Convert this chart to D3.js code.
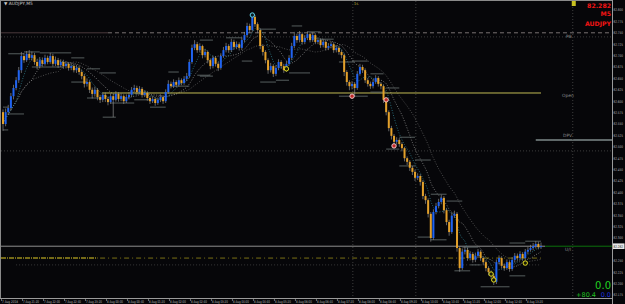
<!DOCTYPE html>
<html><head><meta charset="utf-8">
<script src="https://cdn.jsdelivr.net/npm/d3@7"></script>
<style>html,body{margin:0;padding:0;background:#060609;overflow:hidden}</style>
</head><body>
<svg id="c" width="625" height="304" style="display:block"></svg>
<script>
// ---------------- DATA ----------------
const symbolTitle = "\u25BC AUDJPY,M5";
const infoTexts = ["82.282", "M5", "AUDJPY"];
const timeLabels = ["7 Aug 2018","7 Aug 21:20","7 Aug 22:00","7 Aug 22:40","7 Aug 23:20","8 Aug 00:00","8 Aug 00:40","8 Aug 01:20","8 Aug 02:00","8 Aug 02:40","8 Aug 03:20","8 Aug 04:00","8 Aug 04:40","8 Aug 05:20","8 Aug 06:00","8 Aug 06:40","8 Aug 07:20","8 Aug 08:00","8 Aug 08:40","8 Aug 09:20","8 Aug 10:00","8 Aug 10:40","8 Aug 11:20","8 Aug 12:00","8 Aug 12:40","8 Aug 13:20"];
const priceTicks = ["82.800","82.775","82.750","82.725","82.700","82.675","82.650","82.625","82.600","82.575","82.550","82.525","82.500","82.475","82.450","82.425","82.400","82.375","82.350","82.325","82.300","82.275","82.250","82.225","82.200","82.175"];
const firstOpen = 82.576;
const closes = [
82.550,82.576,82.585,82.611,82.629,82.646,82.668,82.699,82.690,82.704,
82.695,82.701,82.686,82.677,82.690,82.682,82.695,82.686,82.699,82.682,
82.690,82.679,82.686,82.677,82.682,82.673,82.677,82.668,82.673,82.664,
82.655,82.638,82.642,82.625,82.616,82.625,82.609,82.603,82.614,82.605,
82.598,82.611,82.603,82.616,82.605,82.611,82.600,82.609,82.614,82.625,
82.629,82.620,82.627,82.614,82.618,82.607,82.600,82.605,82.596,82.603,
82.609,82.600,82.620,82.638,82.633,82.642,82.636,82.646,82.640,82.649,
82.655,82.686,82.717,82.725,82.712,82.721,82.701,82.708,82.690,82.677,
82.695,82.682,82.673,82.699,82.712,82.721,82.712,82.730,82.719,82.725,
82.717,82.734,82.745,82.765,82.756,82.785,82.769,82.756,82.721,82.708,
82.690,82.668,82.677,82.660,82.673,82.686,82.677,82.668,82.682,82.695,
82.721,82.743,82.734,82.747,82.730,82.739,82.747,82.734,82.745,82.730,
82.734,82.723,82.730,82.717,82.721,82.725,82.712,82.717,82.708,82.701,
82.664,82.642,82.633,82.638,82.629,82.660,82.675,82.668,82.646,82.638,
82.633,82.642,82.651,82.638,82.633,82.603,82.576,82.541,82.524,82.511,
82.515,82.506,82.497,82.475,82.467,82.454,82.445,82.432,82.436,82.423,
82.392,82.383,82.353,82.300,82.357,82.370,82.379,82.388,82.361,82.335,
82.313,82.349,82.353,82.278,82.234,82.270,82.274,82.256,82.265,82.252,
82.261,82.270,82.256,82.247,82.234,82.225,82.217,82.204,82.247,82.256,
82.239,82.234,82.247,82.232,82.252,82.261,82.256,82.265,82.256,82.270,
82.274,82.278,82.282,82.287,82.280,82.282];
const highs = [
82.582,82.584,82.592,82.618,82.636,82.653,82.675,82.708,82.706,82.710,
82.712,82.709,82.706,82.692,82.697,82.696,82.702,82.700,82.706,82.704,
82.698,82.695,82.692,82.691,82.688,82.686,82.684,82.682,82.680,82.678,
82.669,82.660,82.650,82.646,82.630,82.632,82.629,82.614,82.620,82.619,
82.610,82.617,82.616,82.622,82.620,82.617,82.615,82.615,82.620,82.631,
82.636,82.634,82.633,82.631,82.624,82.622,82.611,82.611,82.609,82.608,
82.615,82.613,82.626,82.646,82.643,82.648,82.646,82.652,82.650,82.655,
82.662,82.692,82.724,82.734,82.730,82.727,82.724,82.714,82.711,82.694,
82.700,82.699,82.686,82.705,82.719,82.728,82.725,82.737,82.735,82.731,
82.729,82.740,82.752,82.772,82.770,82.792,82.789,82.773,82.760,82.725,
82.712,82.694,82.684,82.681,82.679,82.692,82.690,82.682,82.688,82.701,
82.728,82.752,82.748,82.754,82.751,82.745,82.753,82.751,82.751,82.749,
82.740,82.738,82.736,82.734,82.727,82.731,82.729,82.723,82.721,82.713,
82.705,82.668,82.646,82.644,82.642,82.666,82.682,82.680,82.672,82.651,
82.643,82.648,82.657,82.655,82.642,82.637,82.607,82.580,82.546,82.528,
82.521,82.519,82.510,82.500,82.479,82.471,82.458,82.450,82.442,82.440,
82.427,82.397,82.387,82.357,82.363,82.377,82.386,82.395,82.392,82.365,
82.340,82.356,82.360,82.357,82.282,82.277,82.281,82.279,82.271,82.269,
82.268,82.276,82.274,82.260,82.251,82.238,82.229,82.221,82.253,82.262,
82.260,82.244,82.253,82.251,82.258,82.267,82.266,82.271,82.269,82.276,
82.280,82.285,82.289,82.293,82.292,82.290];
const lows = [
82.535,82.545,82.570,82.580,82.604,82.624,82.640,82.662,82.684,82.686,
82.690,82.689,82.680,82.670,82.672,82.676,82.678,82.681,82.682,82.676,
82.677,82.673,82.675,82.671,82.672,82.667,82.668,82.663,82.662,82.658,
82.648,82.630,82.632,82.618,82.606,82.610,82.602,82.596,82.598,82.598,
82.591,82.594,82.565,82.599,82.599,82.600,82.594,82.596,82.604,82.610,
82.620,82.614,82.615,82.608,82.609,82.601,82.594,82.596,82.590,82.592,
82.598,82.594,82.596,82.616,82.628,82.629,82.631,82.632,82.635,82.636,
82.644,82.651,82.682,82.712,82.706,82.707,82.694,82.696,82.683,82.670,
82.672,82.676,82.666,82.669,82.695,82.707,82.706,82.708,82.713,82.714,
82.711,82.712,82.729,82.740,82.750,82.752,82.763,82.749,82.714,82.700,
82.683,82.660,82.663,82.653,82.655,82.668,82.671,82.662,82.664,82.678,
82.690,82.716,82.728,82.729,82.724,82.725,82.734,82.729,82.730,82.725,
82.725,82.717,82.718,82.711,82.712,82.716,82.706,82.707,82.702,82.694,
82.655,82.634,82.624,82.626,82.610,82.625,82.656,82.662,82.640,82.632,
82.627,82.628,82.638,82.632,82.626,82.596,82.569,82.534,82.516,82.503,
82.505,82.500,82.490,82.468,82.460,82.447,82.438,82.425,82.427,82.415,
82.385,82.375,82.345,82.292,82.296,82.352,82.365,82.374,82.354,82.328,
82.305,82.309,82.344,82.270,82.226,82.230,82.264,82.250,82.251,82.246,
82.247,82.256,82.250,82.240,82.227,82.218,82.210,82.197,82.199,82.242,
82.233,82.228,82.230,82.226,82.228,82.247,82.250,82.251,82.250,82.252,
82.265,82.270,82.273,82.277,82.275,82.276];
// short range lines: [fromBar, toBar, price]
const rangeLines = [
[2,8,82.704],[8,14,82.708],[14,26,82.706],[11,23,82.675],[26,31,82.695],[32,37,82.671],
[26,32,82.642],[37,43,82.662],[32,38,82.607],[38,43,82.565],[41,50,82.596],[50,56,82.603],
[56,62,82.587],[63,67,82.664],[64,71,82.633],[0,2,82.587],[2,8,82.572],[0,2,82.537],
[74,79,82.657],[75,80,82.734],[75,80,82.655],[85,91,82.739],[91,95,82.688],[98,104,82.758],
[98,104,82.642],[104,109,82.646],[110,114,82.765],[109,117,82.662],[116,121,82.752],[121,126,82.736],
[128,134,82.686],[128,139,82.611],[133,139,82.688],[140,145,82.660],[146,151,82.629],[140,146,82.620],
[151,157,82.521],[146,151,82.495],[157,163,82.471],[151,157,82.458],[163,169,82.396],[169,175,82.381],
[158,163,82.302],[163,169,82.296],[172,178,82.228],[178,182,82.241],[182,193,82.193],[193,199,82.217],
[193,199,82.289],[199,205,82.293],[175,181,82.280]];
// markers: [bar, price, kind]
const markers = [[95,82.789,"cyan"],[108,82.671,"yellow"],[133,82.611,"pink"],[146,82.603,"pink"],
[149,82.502,"pink"],[186,82.221,"yellow"],[187,82.208,"yellow"],[199,82.245,"yellow"]];
const levelP8 = 82.750, levelP8dots = 82.741, levelOpen = 82.618, levelDPV = 82.515,
      levelMidDots = 82.491, levelBid = 82.282, levelPivot = 82.256, levelLowDots = 82.241;
const vLineBars = [133.3, 157.3, 217.1];
const lastBar = 205;
const pnlTexts = ["0.0", "+80.4", "0.0"];

// ---------------- DRAW ----------------
const W = 625, H = 304, L = 1, R = 612, T = 1, B = 298;
const svg = d3.select("#c");
svg.append("rect").attr("width", W).attr("height", H).attr("fill", "#060609");
const x = d3.scaleLinear().domain([0, lastBar]).range([3, 541]);
const y = d3.scaleLinear().domain([82.175, 82.800]).range([295, 10]);
const FONT = "DejaVu Sans, sans-serif";

svg.append("clipPath").attr("id", "pc").append("rect").attr("x", L).attr("y", T).attr("width", R - L).attr("height", B - T);
const g = svg.append("g").attr("clip-path", "url(#pc)");

function hline(p, x0, x1, color, width, dash) {
  g.append("line").attr("x1", x0).attr("x2", x1).attr("y1", y(p)).attr("y2", y(p))
    .attr("stroke", color).attr("stroke-width", width).attr("stroke-dasharray", dash || null);
}
// levels
hline(levelP8dots, L, R, "#3a3a3a", 1, "1,2");
hline(levelP8, L, x(40), "#4a3a3c", 1);
hline(levelP8, x(40), R, "#7a7272", 1, "4,3");
hline(levelMidDots, L, R, "#3c3c3c", 1, "1,2");
hline(levelLowDots, x(5), x(lastBar), "#3a3a3a", 1, "1,2");
hline(levelPivot, L, x(36), "#9a8c1c", 1.6, "5,1,1,1");
hline(levelPivot, x(37), x(lastBar), "#7a7016", 1, "5,3,1,3");
hline(levelBid, L, x(lastBar) + 4, "#8e8e8e", 1);
hline(levelBid, x(lastBar) + 4, R, "#0c700c", 1);
hline(levelDPV, x(203), R, "#7e8a8a", 1.4);
// vertical dotted lines
vLineBars.forEach(b => g.append("line").attr("x1", x(b)).attr("x2", x(b)).attr("y1", T).attr("y2", B)
  .attr("stroke", "#3e3e3e").attr("stroke-width", 1).attr("stroke-dasharray", "1,2"));

// moving averages (dotted)
function sma(n) { return closes.map((c, i) => { const s = closes.slice(Math.max(0, i - n + 1), i + 1); return d3.mean(s); }); }
const lineGen = d3.line().x((d, i) => x(i)).y(d => y(d)).curve(d3.curveMonotoneX);
[[22, "#5e5e5e"], [12, "#8a8a8a"], [6, "#2f7f8e"]].forEach(([n, col]) => {
  g.append("path").attr("d", lineGen(sma(n))).attr("fill", "none").attr("stroke", col)
    .attr("stroke-width", 0.8).attr("stroke-dasharray", "1,1.6");
});

// open line
hline(levelOpen, x(38), x(lastBar), "#c2bb55", 1);

// range lines
g.selectAll("line.rl").data(rangeLines).join("line").attr("class", "rl")
  .attr("x1", d => x(d[0])).attr("x2", d => x(d[1])).attr("y1", d => y(d[2])).attr("y2", d => y(d[2]))
  .attr("stroke", "#5f6868").attr("stroke-width", 0.9);

// candles
const bars = closes.map((c, i) => ({ i, o: i ? closes[i - 1] : firstOpen, c, h: highs[i], l: lows[i] }));
g.selectAll("line.wick").data(bars).join("line").attr("class", "wick")
  .attr("x1", d => x(d.i)).attr("x2", d => x(d.i)).attr("y1", d => y(d.h)).attr("y2", d => y(d.l))
  .attr("stroke", "#8c8c8c").attr("stroke-width", 0.7);
g.selectAll("rect.body").data(bars).join("rect").attr("class", "body")
  .attr("x", d => x(d.i) - 1).attr("width", 2)
  .attr("y", d => y(Math.max(d.o, d.c)))
  .attr("height", d => Math.max(0.7, Math.abs(y(d.o) - y(d.c))))
  .attr("fill", d => d.c > d.o ? "#1f63f2" : (d.c < d.o ? "#e3a02a" : "#9a9a9a"));

// markers
const mk = { cyan: ["#5fd8f0", "#0a1a22"], yellow: ["#e6e020", "#1a1a06"], pink: ["#f0c8c8", "#c02828"] };
g.selectAll("circle.mk").data(markers).join("circle").attr("class", "mk")
  .attr("cx", d => x(d[0])).attr("cy", d => y(d[1])).attr("r", 2.2)
  .attr("fill", d => mk[d[2]][1]).attr("stroke", d => mk[d[2]][0]).attr("stroke-width", 1);

// frame
svg.append("line").attr("x1", 0).attr("x2", R).attr("y1", 0.5).attr("y2", 0.5).attr("stroke", "#8a8a8a");
svg.append("line").attr("x1", 0.5).attr("x2", 0.5).attr("y1", 0).attr("y2", B).attr("stroke", "#8a8a8a");
svg.append("line").attr("x1", 0).attr("x2", R).attr("y1", B + 0.5).attr("y2", B + 0.5).attr("stroke", "#9a9a9a");
svg.append("line").attr("x1", R + 0.5).attr("x2", R + 0.5).attr("y1", 0).attr("y2", H).attr("stroke", "#9a9a9a");

// right price axis
const ya = svg.append("g");
priceTicks.forEach(t => {
  const yy = y(+t);
  ya.append("line").attr("x1", R).attr("x2", R + 1.2).attr("y1", yy).attr("y2", yy).attr("stroke", "#9a9a9a").attr("stroke-width", 0.7);
  if (Math.abs(yy - y(levelBid)) < 5) return;
  ya.append("text").attr("x", R + 1.6).attr("y", yy + 1.3).attr("font-size", 3.6).attr("font-family", FONT)
    .attr("textLength", 9.4).attr("lengthAdjust", "spacingAndGlyphs")
    .attr("fill", "#b8b8b8").text(t);
});
ya.append("rect").attr("x", R + 1).attr("y", y(levelBid) - 2.8).attr("width", 11.5).attr("height", 5.6).attr("fill", "#e8e8e8");
ya.append("text").attr("x", R + 1.6).attr("y", y(levelBid) + 1.3).attr("font-size", 3.6).attr("font-family", FONT)
  .attr("textLength", 9.4).attr("lengthAdjust", "spacingAndGlyphs")
  .attr("fill", "#101010").text(levelBid.toFixed(3));

// bottom time axis
const xa = svg.append("g");
timeLabels.forEach((t, k) => {
  const xx = x(k * 8);
  xa.append("line").attr("x1", xx - 1.5).attr("x2", xx - 1.5).attr("y1", B).attr("y2", B + 3).attr("stroke", "#9a9a9a").attr("stroke-width", 0.7);
  xa.append("text").attr("x", xx - 1).attr("y", B + 4.6).attr("font-size", 3.8).attr("font-family", FONT)
    .attr("textLength", 16).attr("lengthAdjust", "spacingAndGlyphs")
    .attr("fill", "#b8b8b8").text(t);
});

// texts
svg.append("text").attr("x", 4).attr("y", 5).attr("font-size", 4.4).attr("font-family", FONT).attr("fill", "#c8c8c8").text(symbolTitle);
const red = "#f01414";
svg.append("text").attr("x", 611).attr("y", 7.5).attr("text-anchor", "end").attr("font-size", 6.2).attr("font-weight", "bold").attr("font-family", FONT).attr("fill", red).text(infoTexts[0]);
svg.append("text").attr("x", 611).attr("y", 16).attr("text-anchor", "end").attr("font-size", 6.2).attr("font-weight", "bold").attr("font-family", FONT).attr("fill", red).text(infoTexts[1]);
svg.append("text").attr("x", 611).attr("y", 26).attr("text-anchor", "end").attr("font-size", 6.2).attr("font-weight", "bold").attr("font-family", FONT).attr("fill", red).text(infoTexts[2]);
const lbl = (t, px, py) => svg.append("text").attr("x", px).attr("y", py).attr("font-size", 4.4).attr("font-family", FONT).attr("fill", "#8a8a8a").text(t);
lbl("P8", 566, y(levelP8) + 5);
lbl("Open", 562, y(levelOpen) + 4.5);
lbl("DPV", 563, y(levelDPV) - 3);
lbl("U/I", 565, y(levelBid) + 5);
svg.append("rect").attr("x", x(217.1) - 1).attr("y", 1).attr("width", 4).attr("height", 5).attr("fill", "#c8c020");
svg.append("text").attr("x", x(133.3) + 1).attr("y", 5).attr("font-size", 4).attr("font-family", FONT).attr("fill", "#b0a830").text("1s");
svg.append("text").attr("x", 611).attr("y", 289).attr("text-anchor", "end").attr("font-size", 10).attr("font-family", FONT).attr("fill", "#20d020").text(pnlTexts[0]);
svg.append("text").attr("x", 596).attr("y", 296.5).attr("text-anchor", "end").attr("font-size", 6.5).attr("font-family", FONT).attr("fill", "#20c020").text(pnlTexts[1]);
svg.append("text").attr("x", 611).attr("y", 296.5).attr("text-anchor", "end").attr("font-size", 6.5).attr("font-family", FONT).attr("fill", "#1c30d8").text(pnlTexts[2]);
</script>
</body></html>
